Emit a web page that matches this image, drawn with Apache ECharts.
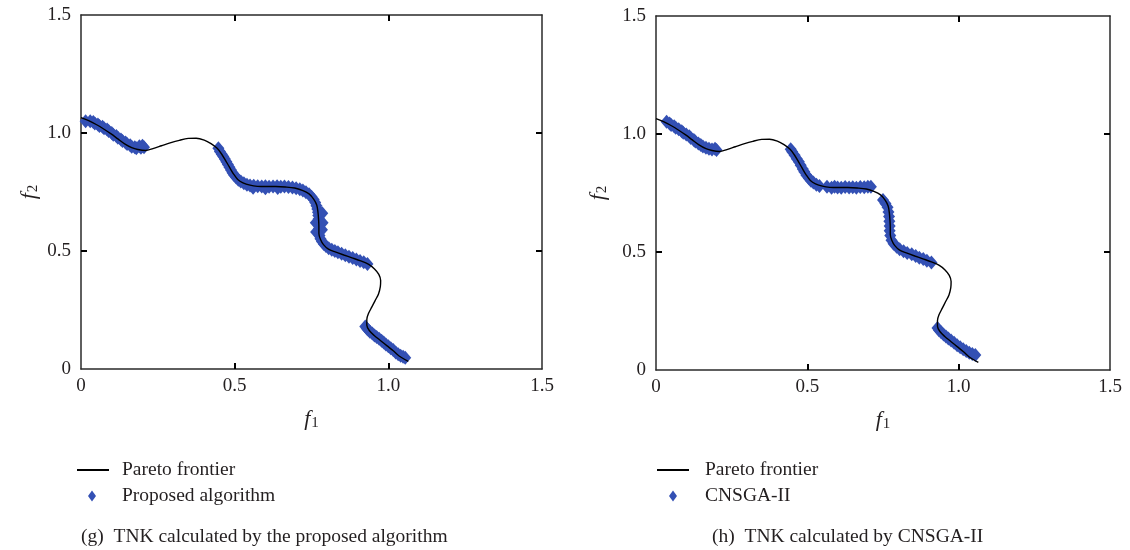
<!DOCTYPE html>
<html>
<head>
<meta charset="utf-8">
<script src="https://cdn.jsdelivr.net/npm/echarts@6/dist/echarts.min.js"></script>
<style>
html,body{margin:0;padding:0;background:#fff;}
#chart{width:1130px;height:550px;}
</style>
</head>
<body>
<div id="chart"></div>
<script>
// ---- data ----
const tickValues = [0, 0.5, 1.0, 1.5];
const tickLabels = ['0', '0.5', '1.0', '1.5'];

const seriesNames = ['Pareto frontier', 'Proposed algorithm', 'CNSGA-II'];
const captions = ['(g)  TNK calculated by the proposed algorithm', '(h)  TNK calculated by CNSGA-II'];

// Pareto frontier curve [f1, f2]
const paretoFrontier = [
  [0,1.065],[0.025,1.052],[0.051,1.035],[0.075,1.016],[0.098,0.996],[0.12,0.975],[0.142,0.954],
  [0.165,0.938],[0.185,0.93],[0.21,0.926],[0.234,0.934],[0.262,0.946],[0.29,0.958],[0.32,0.969],
  [0.349,0.977],[0.375,0.978],[0.401,0.97],[0.423,0.955],[0.443,0.935],[0.458,0.91],[0.471,0.882],
  [0.484,0.853],[0.496,0.827],[0.51,0.803],[0.527,0.789],[0.55,0.779],[0.574,0.774],[0.604,0.773],
  [0.634,0.773],[0.665,0.771],[0.695,0.767],[0.72,0.757],[0.742,0.742],[0.757,0.72],[0.767,0.695],
  [0.771,0.665],[0.773,0.634],[0.774,0.604],[0.774,0.574],[0.779,0.55],[0.789,0.527],[0.805,0.508],
  [0.827,0.496],[0.855,0.483],[0.882,0.471],[0.91,0.458],[0.936,0.443],[0.955,0.424],[0.969,0.401],
  [0.975,0.375],[0.974,0.349],[0.968,0.318],[0.957,0.29],[0.946,0.262],[0.935,0.234],[0.93,0.21],
  [0.93,0.185],[0.938,0.163],[0.954,0.142],[0.975,0.12],[0.996,0.098],[1.016,0.077],[1.035,0.055],
  [1.065,0.032]
];

// Proposed algorithm solutions [f1, f2]
const proposedPoints = [
  [0.015,1.050],[0.03,1.050],[0.04,1.047],[0.045,1.040],[0.055,1.036],[0.06,1.030],[0.07,1.026],
  [0.075,1.020],[0.085,1.015],[0.09,1.008],[0.1,1.000],[0.105,0.993],[0.115,0.987],[0.12,0.980],
  [0.13,0.972],[0.135,0.966],[0.145,0.960],[0.15,0.953],[0.16,0.948],[0.165,0.942],[0.175,0.940],
  [0.18,0.935],[0.19,0.944],[0.195,0.937],[0.2,0.946],[0.205,0.940],
  [0.447,0.935],[0.452,0.922],[0.458,0.91],[0.463,0.9],[0.468,0.89],[0.473,0.878],[0.478,0.866],
  [0.483,0.855],[0.488,0.843],[0.493,0.832],[0.498,0.822],[0.505,0.811],[0.512,0.802],[0.52,0.794],
  [0.53,0.787],[0.54,0.781],[0.55,0.778],[0.562,0.776],[0.575,0.774],[0.588,0.773],[0.6,0.774],
  [0.612,0.772],[0.625,0.773],[0.638,0.774],[0.65,0.772],[0.662,0.773],[0.675,0.771],[0.688,0.769],
  [0.70,0.766],[0.712,0.762],[0.722,0.756],[0.732,0.749],[0.742,0.74],[0.75,0.73],[0.757,0.718],
  [0.762,0.705],[0.766,0.692],[0.769,0.678],[0.771,0.664],[0.772,0.65],[0.773,0.636],[0.774,0.622],
  [0.774,0.608],[0.774,0.594],[0.774,0.58],[0.776,0.566],[0.779,0.552],[0.784,0.54],[0.79,0.53],
  [0.797,0.521],[0.806,0.512],[0.816,0.505],[0.826,0.5],[0.836,0.495],[0.848,0.488],[0.86,0.482],
  [0.872,0.476],[0.884,0.47],[0.896,0.464],[0.908,0.458],[0.92,0.452],[0.932,0.445],
  [0.785,0.66],[0.786,0.62],[0.784,0.59],[0.764,0.62],[0.765,0.58],[0.56,0.768],[0.6,0.766],[0.64,0.767],
  [0.925,0.180],[0.93,0.172],[0.935,0.165],[0.94,0.158],[0.948,0.150],[0.955,0.142],[0.962,0.136],
  [0.97,0.128],[0.978,0.120],[0.985,0.112],[0.992,0.104],[1.0,0.096],[1.008,0.088],[1.016,0.080],
  [1.024,0.070],[1.032,0.062],[1.04,0.056],[1.048,0.052],[1.055,0.048]
];

// CNSGA-II solutions [f1, f2]
const cnsgaPoints = [
  [0.035,1.052],[0.045,1.045],[0.05,1.038],[0.06,1.033],[0.065,1.026],[0.075,1.020],[0.085,1.012],
  [0.09,1.005],[0.1,0.998],[0.11,0.99],[0.115,0.983],[0.125,0.975],[0.13,0.968],[0.14,0.960],
  [0.148,0.953],[0.155,0.947],[0.165,0.942],[0.175,0.937],[0.185,0.934],[0.195,0.938],[0.2,0.932],
  [0.445,0.935],[0.45,0.925],[0.458,0.91],[0.465,0.895],[0.472,0.882],[0.478,0.868],[0.485,0.852],
  [0.49,0.84],[0.497,0.825],[0.505,0.812],[0.512,0.802],[0.52,0.795],[0.53,0.785],[0.54,0.78],
  [0.565,0.776],[0.58,0.772],[0.59,0.776],[0.6,0.773],[0.612,0.772],[0.625,0.775],[0.638,0.773],
  [0.65,0.774],[0.662,0.772],[0.675,0.775],[0.688,0.774],[0.70,0.776],[0.71,0.777],
  [0.75,0.72],[0.758,0.705],[0.765,0.69],[0.768,0.67],[0.77,0.65],[0.771,0.63],[0.772,0.61],
  [0.772,0.59],[0.774,0.57],[0.778,0.55],[0.785,0.535],[0.795,0.522],[0.805,0.512],[0.818,0.503],
  [0.83,0.496],[0.845,0.49],[0.858,0.483],[0.87,0.476],[0.883,0.47],[0.895,0.463],[0.91,0.456],
  [0.93,0.178],[0.935,0.168],[0.942,0.16],[0.95,0.15],[0.958,0.142],[0.966,0.134],[0.975,0.125],
  [0.985,0.115],[0.995,0.105],[1.005,0.096],[1.015,0.088],[1.025,0.08],[1.035,0.073],[1.045,0.068],
  [1.055,0.064]
];

// ---- chart ----
const FONT = 'Liberation Serif';
const TXT = '#231f20';
const BLUE = '#3350b4';
const chart = echarts.init(document.getElementById('chart'));

function fmt(v) {
  const i = tickValues.indexOf(Math.round(v * 2) / 2);
  return i >= 0 ? tickLabels[i] : '';
}
const lineStyle = { color: '#2a2a2a', width: 1.5 };
const tick = { show: true, inside: true, length: 6, customValues: [0.5, 1.0], lineStyle: { color: '#000', width: 2 } };

function nameRich() {
  return {
    fontFamily: FONT, color: TXT,
    rich: {
      i: { fontFamily: FONT, fontStyle: 'italic', fontSize: 22, color: TXT, lineHeight: 24 },
      s: { fontFamily: FONT, fontSize: 15, color: TXT, verticalAlign: 'bottom', lineHeight: 24, padding: [6, 0, 0, 1] }
    }
  };
}

function xAxes(g) {
  return [
    { type: 'value', gridIndex: g, min: 0, max: 1.5, interval: 0.5, position: 'bottom',
      axisLine: { show: true, onZero: false, lineStyle }, axisTick: tick,
      axisLabel: { formatter: fmt, fontFamily: FONT, fontSize: 19, color: TXT, margin: 8 },
      splitLine: { show: false },
      name: '{i|f}{s|1}', nameLocation: 'middle', nameGap: 38, nameTextStyle: nameRich() },
    { type: 'value', gridIndex: g, min: 0, max: 1.5, interval: 0.5, position: 'top',
      axisLine: { show: true, onZero: false, lineStyle }, axisTick: tick,
      axisLabel: { show: false }, splitLine: { show: false } }
  ];
}
function yAxes(g, gap) {
  return [
    { type: 'value', gridIndex: g, min: 0, max: 1.5, interval: 0.5, position: 'left',
      axisLine: { show: true, onZero: false, lineStyle }, axisTick: tick,
      axisLabel: { formatter: fmt, fontFamily: FONT, fontSize: 19, color: TXT, margin: 10 },
      splitLine: { show: false },
      name: '{i|f}{s|2}', nameLocation: 'middle', nameRotate: 90, nameGap: gap, nameTextStyle: nameRich() },
    { type: 'value', gridIndex: g, min: 0, max: 1.5, interval: 0.5, position: 'right',
      axisLine: { show: true, onZero: false, lineStyle }, axisTick: tick,
      axisLabel: { show: false }, splitLine: { show: false } }
  ];
}

function lineSeries(xi, yi) {
  return { name: seriesNames[0], type: 'line', xAxisIndex: xi, yAxisIndex: yi, data: paretoFrontier,
    showSymbol: false, symbol: 'none', smooth: 0.3, z: 5,
    lineStyle: { color: '#000', width: 1.4 }, itemStyle: { color: '#000' }, silent: true };
}
function scatterSeries(name, data, xi, yi) {
  return { name, type: 'scatter', xAxisIndex: xi, yAxisIndex: yi, data,
    symbol: 'diamond', symbolSize: [12, 14], z: 3,
    itemStyle: { color: BLUE, opacity: 1 }, silent: true };
}

function legends(x0, yLine, name2, dx, pad1, pad2) {
  const ts = { fontFamily: FONT, fontSize: 19.5, color: TXT };
  return [
    { left: x0, top: yLine - 7, padding: 0, orient: 'vertical', selectedMode: false, data: [{ name: seriesNames[0], icon: 'rect' }],
      itemWidth: 32, itemHeight: 2, textStyle: Object.assign({}, ts, { padding: [0, 0, 0, pad1] }) },
    { left: x0 + dx, top: yLine + 19, padding: 0, orient: 'vertical', selectedMode: false, data: [{ name: name2, icon: 'diamond' }],
      itemWidth: 8, itemHeight: 11, textStyle: Object.assign({}, ts, { padding: [0, 0, 0, pad2] }) }
  ];
}

const option = {
  backgroundColor: '#fff',
  animation: false,
  title: [
    { text: captions[0], left: 81, top: 527, padding: 0, textStyle: { fontFamily: FONT, fontSize: 19.5, fontWeight: 'normal', color: TXT } },
    { text: captions[1], left: 712, top: 527, padding: 0, textStyle: { fontFamily: FONT, fontSize: 19.5, fontWeight: 'normal', color: TXT } }
  ],
  legend: legends(77, 467, seriesNames[1], 11, 8, 21).concat(legends(657, 467, seriesNames[2], 12, 11, 23)),
  grid: [
    { left: 81, top: 15, width: 461, height: 354 },
    { left: 656, top: 16, width: 454, height: 354 }
  ],
  xAxis: xAxes(0).concat(xAxes(1)),
  yAxis: yAxes(0, 40).concat(yAxes(1, 46)),
  series: [
    lineSeries(0, 0), scatterSeries(seriesNames[1], proposedPoints, 0, 0),
    lineSeries(2, 2), scatterSeries(seriesNames[2], cnsgaPoints, 2, 2)
  ]
};
chart.setOption(option);
</script>
</body>
</html>
